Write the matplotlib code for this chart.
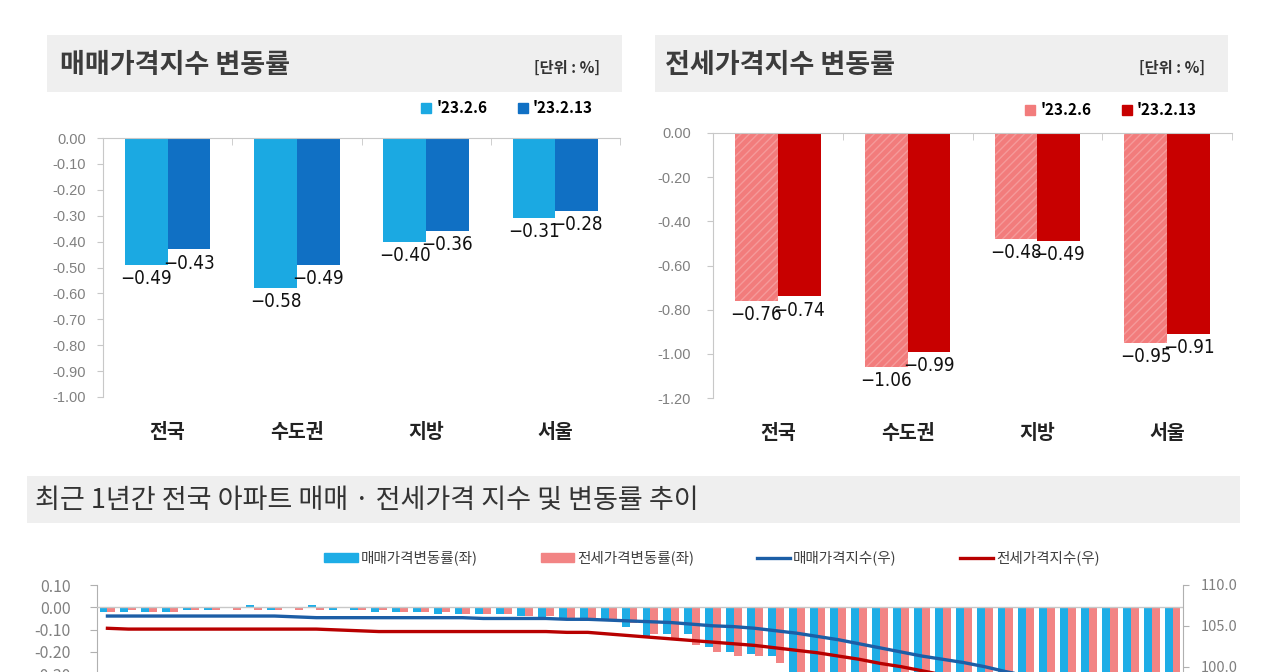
import numpy as np
import matplotlib
matplotlib.use('Agg')
import matplotlib.pyplot as plt
from matplotlib import font_manager as fm
from matplotlib.patches import Rectangle, Patch
from matplotlib.lines import Line2D

plt.rcParams['font.family'] = ['Noto Sans CJK KR', 'DejaVu Sans']
plt.rcParams['axes.unicode_minus'] = False

# ---- 상단: 주간 변동률 ----
regions = ['전국', '수도권', '지방', '서울']
dates = ["'23.2.6", "'23.2.13"]
sale_prev = [-0.49, -0.58, -0.40, -0.31]
sale_now = [-0.43, -0.49, -0.36, -0.28]
jeonse_prev = [-0.76, -1.06, -0.48, -0.95]
jeonse_now = [-0.74, -0.99, -0.49, -0.91]

# ---- 하단: 최근 1년 (52주) ----
sale_rate = [-0.02, -0.02, -0.02, -0.02, -0.01, -0.01, 0.00, 0.01, -0.01, 0.00,
             0.01, -0.01, -0.01, -0.02, -0.02, -0.02, -0.03, -0.03, -0.03, -0.03,
             -0.04, -0.05, -0.05, -0.06, -0.06, -0.09, -0.14, -0.12, -0.12, -0.18,
             -0.20, -0.21, -0.22, -0.30, -0.33, -0.38, -0.46, -0.52, -0.49, -0.53,
             -0.59, -0.72, -0.76, -0.67, -0.65, -0.52, -0.49, -0.45, -0.38, -0.49,
             -0.49, -0.43]
jeonse_rate = [-0.02, -0.01, -0.02, -0.02, -0.01, -0.01, -0.01, -0.01, -0.01, -0.01,
               -0.01, 0.00, -0.01, -0.01, -0.02, -0.02, -0.02, -0.03, -0.03, -0.03,
               -0.04, -0.04, -0.05, -0.05, -0.06, -0.07, -0.12, -0.14, -0.17, -0.20,
               -0.22, -0.22, -0.25, -0.32, -0.37, -0.43, -0.48, -0.59, -0.63, -0.65,
               -0.75, -0.84, -0.91, -0.88, -0.87, -0.85, -0.80, -0.77, -0.71, -0.79,
               -0.76, -0.74]
sale_index = [106.2, 106.2, 106.2, 106.2, 106.2, 106.2, 106.2, 106.2, 106.2, 106.1,
              106.0, 106.0, 106.0, 106.0, 106.0, 106.0, 106.0, 106.0, 105.9, 105.9,
              105.9, 105.9, 105.8, 105.8, 105.7, 105.6, 105.5, 105.4, 105.2, 105.0,
              104.9, 104.7, 104.4, 104.1, 103.7, 103.3, 102.8, 102.3, 101.8, 101.3,
              100.9, 100.5, 100.0, 99.4, 98.9, 98.4, 97.9, 97.4, 96.9, 96.5,
              96.1, 95.7]
jeonse_index = [104.7, 104.6, 104.6, 104.6, 104.6, 104.6, 104.6, 104.6, 104.6, 104.6,
                104.6, 104.5, 104.4, 104.3, 104.3, 104.3, 104.3, 104.3, 104.3, 104.3,
                104.3, 104.3, 104.2, 104.2, 104.0, 103.8, 103.6, 103.4, 103.2, 103.0,
                102.8, 102.6, 102.3, 102.0, 101.7, 101.3, 100.9, 100.4, 100.0, 99.5,
                99.0, 98.4, 97.8, 97.2, 96.6, 96.0, 95.4, 94.8, 94.3, 93.8,
                93.4, 93.0]

W, H = 1280, 672
fig = plt.figure(figsize=(W / 100, H / 100), dpi=100)
fig.patch.set_facecolor('white')

# 좁은 숫자 글꼴이 있으면 사용
fonts = fm.fontManager.ttflist
if any(f.name == 'Liberation Sans Narrow' for f in fonts):
    num_prop = dict(family=['Liberation Sans Narrow', 'DejaVu Sans'], fontsize=15)
elif any(f.name == 'DejaVu Sans' and f.stretch == 'condensed' for f in fonts):
    num_prop = dict(family=['DejaVu Sans'], fontstretch='condensed', fontsize=13.5)
else:
    num_prop = dict(family=['Liberation Sans', 'DejaVu Sans'], fontsize=13)


def px(x, y, w, h):
    # 픽셀 좌표 -> figure 비율
    return [x / W, 1 - (y + h) / H, w / W, h / H]


def box(x, y, w, h):
    fig.add_artist(Rectangle((x / W, 1 - (y + h) / H), w / W, h / H,
                             transform=fig.transFigure, facecolor='#EFEFEF',
                             edgecolor='none', zorder=0))


def minus(v):
    return f'{v:.2f}'.replace('-', '\u2212')


gray = '#808080'
tick_font = ['Liberation Sans', 'DejaVu Sans']


def top_panel(ax, prev, now, c1, c2, ymin, step, ypad, hatch=None, ec1='none'):
    x = np.arange(len(regions))
    w = 0.33
    b1 = ax.bar(x - w / 2, prev, w, color=c1, hatch=hatch, edgecolor=ec1, linewidth=0)
    b2 = ax.bar(x + w / 2, now, w, color=c2, linewidth=0)
    for b, vals in [(b1, prev), (b2, now)]:
        ax.bar_label(b, labels=[minus(v) for v in vals], padding=3,
                     color='#111111', **num_prop)
    ax.set_xlim(-0.5, 3.5)
    ax.set_ylim(ymin, 0)
    ticks = np.round(np.arange(0, ymin - step / 2, -step), 2)
    ax.set_yticks(ticks)
    ax.set_yticklabels(['0.00' if t == 0 else f'{t:.2f}' for t in ticks])
    ax.set_xticks(x)
    ax.set_xticklabels(regions, fontsize=14, fontweight='bold', color='#222222')
    ax.set_xticks([0.5, 1.5, 2.5, 3.5], minor=True)
    ax.tick_params(axis='x', which='major', length=0, pad=19)
    ax.tick_params(axis='x', which='minor', bottom=False, top=True,
                   direction='in', length=5, color='#C8C8C8')
    ax.tick_params(axis='y', length=4, color='#C8C8C8', labelsize=10.5,
                   labelcolor=gray, pad=ypad)
    for lab in ax.get_yticklabels():
        lab.set_family(tick_font)
    for s in ['right', 'bottom']:
        ax.spines[s].set_visible(False)
    for s in ['left', 'top']:
        ax.spines[s].set_color('#C8C8C8')


def small_legend(handles, cx, cy):
    fig.legend(handles=handles, labels=dates, loc='center',
               bbox_to_anchor=(cx / W, 1 - cy / H), ncol=2, frameon=False,
               handlelength=0.65, handleheight=0.65, handletextpad=0.35,
               columnspacing=2.0, prop=dict(weight='bold', size=11))


# ---- 매매가격지수 변동률 ----
box(47, 35, 575, 57)
fig.text(60 / W, 1 - 65 / H, '매매가격지수 변동률', fontsize=19.5, fontweight='bold',
         color='#3C3C3C', va='center')
fig.text(600 / W, 1 - 68 / H, '[단위 : %]', fontsize=11, fontweight='bold',
         color='#333333', va='center', ha='right')
ax1 = fig.add_axes(px(103, 138, 517, 259))
top_panel(ax1, sale_prev, sale_now, '#1BA9E2', '#1070C4', -1.0, 0.1, ypad=8)
small_legend([Patch(color='#1BA9E2'), Patch(color='#1070C4')], 507, 108)

# ---- 전세가격지수 변동률 ----
box(655, 35, 573, 57)
fig.text(665 / W, 1 - 65 / H, '전세가격지수 변동률', fontsize=19.5, fontweight='bold',
         color='#3C3C3C', va='center')
fig.text(1205 / W, 1 - 68 / H, '[단위 : %]', fontsize=11, fontweight='bold',
         color='#333333', va='center', ha='right')
ax2 = fig.add_axes(px(713, 133, 519, 265))
plt.rcParams['hatch.linewidth'] = 1.0
top_panel(ax2, jeonse_prev, jeonse_now, '#F27C7C', '#C80000', -1.2, 0.2, ypad=12,
          hatch='////', ec1='#F59A9A')
small_legend([Patch(color='#F27C7C'), Patch(color='#C80000')], 1111, 110)

# ---- 최근 1년간 추이 ----
box(27, 476, 1213, 47)
fig.text(35 / W, 1 - 500 / H, '최근 1년간 전국 아파트 매매 · 전세가격 지수 및 변동률 추이',
         fontsize=19.5, color='#333333', va='center')

ax3 = fig.add_axes(px(97, 585, 1086, 245))
n = len(sale_rate)
xi = np.arange(n)
bw = 0.38
ax3.bar(xi - bw / 2, sale_rate, bw, color='#1EADE6', linewidth=0)
ax3.bar(xi + bw / 2, jeonse_rate, bw, color='#F28484', linewidth=0)
ax3.axhline(0, color='#C8C8C8', linewidth=1, zorder=3)
ax3.set_xlim(-0.5, n - 0.5)
ax3.set_ylim(-1.0, 0.10)
lt = np.round(np.arange(0.10, -1.001, -0.10), 2)
ax3.set_yticks(lt)
ax3.set_yticklabels(['0.00' if t == 0 else f'{t:.2f}' for t in lt])
ax3.set_xticks([])
ax3.tick_params(axis='y', length=5, color='#B0B0B0', labelsize=11.5,
                labelcolor=gray, pad=14)
for s in ['top', 'right', 'bottom']:
    ax3.spines[s].set_visible(False)
ax3.spines['left'].set_color('#B0B0B0')

ax4 = ax3.twinx()
ax4.plot(xi, sale_index, color='#1C5EA6', linewidth=2.4)
ax4.plot(xi, jeonse_index, color='#B80000', linewidth=2.4)
ax4.set_ylim(80, 110)
rt = np.arange(110, 79, -5)
ax4.set_yticks(rt)
ax4.set_yticklabels([f'{t:.1f}' for t in rt])
ax4.tick_params(axis='y', length=4, color='#B0B0B0', labelsize=10.5,
                labelcolor=gray, pad=9)
for s in ['top', 'left', 'bottom']:
    ax4.spines[s].set_visible(False)
ax4.spines['right'].set_color('#B0B0B0')

handles = [Patch(color='#1EADE6'), Patch(color='#F28484'),
           Line2D([], [], color='#1C5EA6', linewidth=2.4),
           Line2D([], [], color='#B80000', linewidth=2.4)]
labels = ['매매가격변동률(좌)', '전세가격변동률(좌)', '매매가격지수(우)', '전세가격지수(우)']
fig.legend(handles=handles, labels=labels, loc='center',
           bbox_to_anchor=(712 / W, 1 - 558 / H), ncol=4, frameon=False,
           handlelength=2.3, handleheight=0.6, handletextpad=0.2, columnspacing=4.3,
           prop=dict(size=10.5), labelcolor='#404040')

fig.savefig('out.png', dpi=100, facecolor='white')
